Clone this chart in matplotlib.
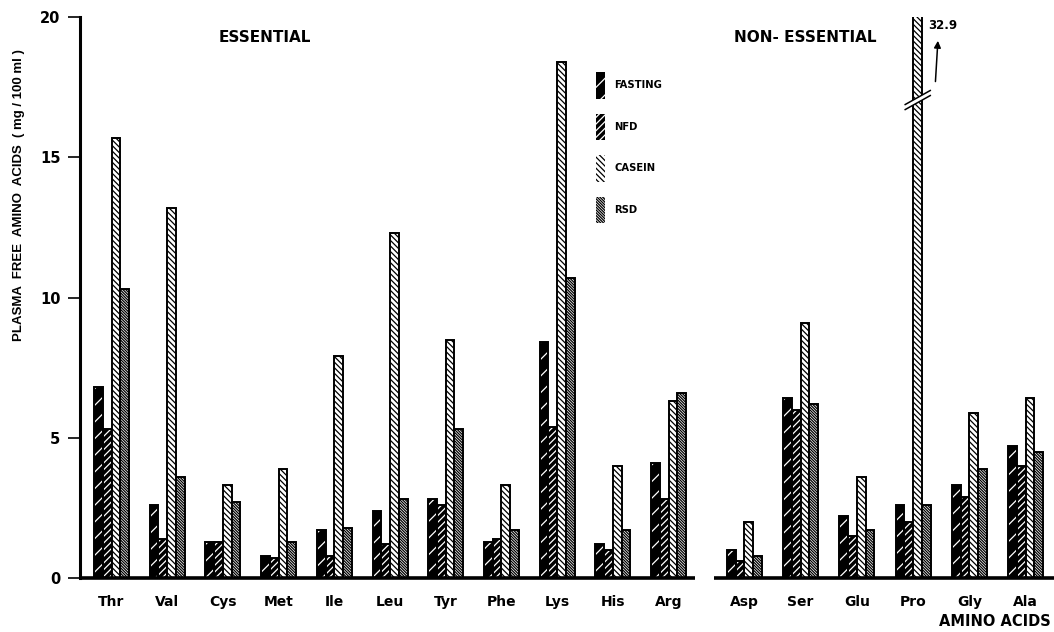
import numpy as np
import matplotlib
matplotlib.use('Agg')
import matplotlib.pyplot as plt
from matplotlib.patches import Patch, Polygon

plt.rcParams['font.family'] = ['DejaVu Sans']
plt.rcParams['hatch.linewidth'] = 0.9

# Plasma free amino acids (mg/100 ml) by diet
essential = ['Thr', 'Val', 'Cys', 'Met', 'Ile', 'Leu', 'Tyr', 'Phe', 'Lys', 'His', 'Arg']
non_essential = ['Asp', 'Ser', 'Glu', 'Pro', 'Gly', 'Ala']

fasting = [6.8, 2.6, 1.3, 0.8, 1.7, 2.4, 2.8, 1.3, 8.4, 1.2, 4.1,
           1.0, 6.4, 2.2, 2.6, 3.3, 4.7]
nfd = [5.3, 1.4, 1.3, 0.7, 0.8, 1.2, 2.6, 1.4, 5.4, 1.0, 2.8,
       0.6, 6.0, 1.5, 2.0, 2.9, 4.0]
casein = [15.7, 13.2, 3.3, 3.9, 7.9, 12.3, 8.5, 3.3, 18.4, 4.0, 6.3,
          2.0, 9.1, 3.6, 32.9, 5.9, 6.4]
rsd = [10.3, 3.6, 2.7, 1.3, 1.8, 2.8, 5.3, 1.7, 10.7, 1.7, 6.6,
       0.8, 6.2, 1.7, 2.6, 3.9, 4.5]

labels = essential + non_essential
diets = ['FASTING', 'NFD', 'CASEIN', 'RSD']

# group positions: essential block, a gap, then the non-essential block
pos = np.concatenate([np.arange(len(essential)),
                      11.36 + 1.01 * np.arange(len(non_essential))])
w = 0.157

styles = [
    dict(face='black', hatch_col='white', hatch='//'),
    dict(face='black', hatch_col='white', hatch='/' * 5),
    dict(face='white', hatch_col='black', hatch='\\' * 6),
    dict(face='white', hatch_col='black', hatch='\\' * 12),
]

fig = plt.figure(figsize=(10.54, 6.32), dpi=100)
ax = fig.add_axes([0.0759, 0.0854, 0.9241, 0.8877])

handles = []
for k, (vals, st) in enumerate(zip([fasting, nfd, casein, rsd], styles)):
    xk = pos + (k - 1.5) * w
    ax.bar(xk, vals, w, color=st['face'], edgecolor=st['hatch_col'],
           hatch=st['hatch'], linewidth=0)
    ax.bar(xk, vals, w, fill=False, edgecolor='black', linewidth=1.4)
    handles.append(Patch(facecolor=st['face'], edgecolor=st['hatch_col'],
                         hatch=st['hatch'], linewidth=0, label=diets[k]))

ax.set_xlim(-0.566, 16.92)
ax.set_ylim(0, 20)

# axes: left spine plus a broken baseline
for s in ['top', 'right', 'bottom']:
    ax.spines[s].set_visible(False)
ax.spines['left'].set_linewidth(2.2)
ax.plot([-0.566, 10.48], [0, 0], color='black', lw=2.6, clip_on=False, solid_capstyle='butt')
ax.plot([10.82, 16.92], [0, 0], color='black', lw=2.6, clip_on=False, solid_capstyle='butt')

ax.set_yticks([0, 5, 10, 15, 20])
ax.tick_params(axis='y', length=9, width=1.2, pad=5, labelsize=10.5)
for t in ax.get_yticklabels():
    t.set_fontweight('bold')
ax.set_xticks(pos)
ax.set_xticklabels(labels, fontsize=10, fontweight='bold')
ax.tick_params(axis='x', length=0, pad=12)

# Pro casein runs off the scale: break marks and value
ip = labels.index('Pro')
xc = pos[ip] + 0.5 * w
y0 = 16.7
brk = Polygon([[xc - 0.22, y0], [xc + 0.23, y0 + 0.5],
               [xc + 0.23, y0 + 0.68], [xc - 0.22, y0 + 0.18]],
              closed=True, facecolor='white', edgecolor='none', zorder=5)
ax.add_patch(brk)
ax.plot([xc - 0.22, xc + 0.23], [y0, y0 + 0.5], color='black', lw=1.1, zorder=6)
ax.plot([xc - 0.22, xc + 0.23], [y0 + 0.18, y0 + 0.68], color='black', lw=1.1, zorder=6)
ax.annotate('', xy=(xc + 0.37, 19.25), xytext=(xc + 0.32, 17.6),
            arrowprops=dict(arrowstyle='-|>', color='black', lw=1.1,
                            mutation_scale=10))
ax.text(xc + 0.19, 19.7, f'{casein[ip]}', fontsize=8.5, fontweight='bold',
        va='center', ha='left')

ax.legend(handles=handles, loc='upper left', bbox_to_anchor=(0.521, 0.918),
          frameon=False, handlelength=0.9, handleheight=3.7,
          handletextpad=0.9, labelspacing=1.5,
          prop=dict(weight='bold', size=7.2))

W, H = 1054, 632
fig.text(265 / W, 1 - 37 / H, 'ESSENTIAL', fontsize=11, fontweight='bold',
         ha='center', va='center')
fig.text(805 / W, 1 - 38 / H, 'NON- ESSENTIAL', fontsize=11, fontweight='bold',
         ha='center', va='center')
fig.text(1051 / W, 1 - 621 / H, 'AMINO ACIDS', fontsize=10.5, fontweight='bold',
         ha='right', va='center')
fig.text(19 / W, 1 - 195 / H, 'PLASMA  FREE  AMINO  ACIDS  ( mg / 100 ml )',
         rotation=90, fontsize=9.5, fontweight='bold', ha='center', va='center',
         family='Liberation Sans')

fig.savefig('out.png', dpi=100)
